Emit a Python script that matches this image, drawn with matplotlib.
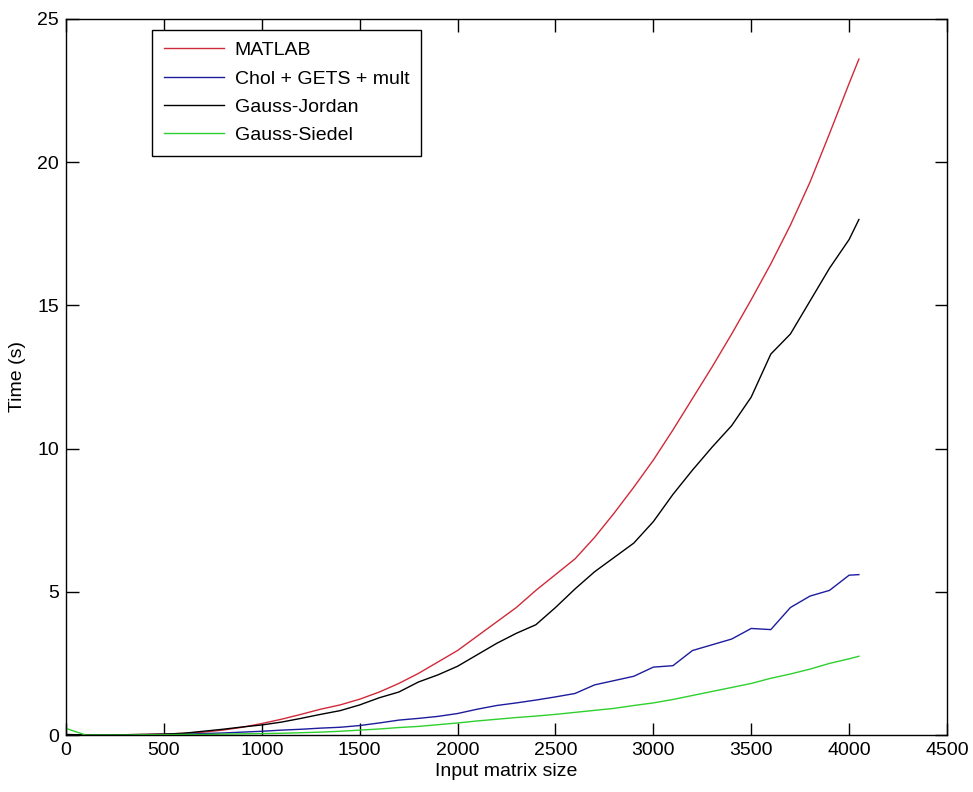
import matplotlib
matplotlib.use("Agg")
import matplotlib.pyplot as plt

plt.rcParams['font.family'] = ['Liberation Sans', 'DejaVu Sans']

sizes = [0, 100, 200, 300, 400, 500, 600, 700, 800, 900,
         1000, 1100, 1200, 1300, 1400, 1500, 1600, 1700, 1800, 1900,
         2000, 2100, 2200, 2300, 2400, 2500, 2600, 2700, 2800, 2900,
         3000, 3100, 3200, 3300, 3400, 3500, 3600, 3700, 3800, 3900,
         4000, 4050]

matlab = [0.0, 0.0, 0.0, 0.01, 0.02, 0.03, 0.06, 0.1, 0.17, 0.27,
          0.4, 0.55, 0.72, 0.9, 1.05, 1.25, 1.5, 1.8, 2.15, 2.55,
          2.95, 3.45, 3.95, 4.45, 5.05, 5.6, 6.15, 6.9, 7.75, 8.65,
          9.6, 10.65, 11.75, 12.85, 14.0, 15.2, 16.45, 17.8, 19.3, 21.0,
          22.75, 23.6]

chol = [0.0, 0.0, 0.0, 0.0, 0.01, 0.02, 0.03, 0.05, 0.07, 0.1,
        0.13, 0.17, 0.2, 0.24, 0.27, 0.33, 0.42, 0.52, 0.58, 0.65,
        0.75, 0.9, 1.03, 1.12, 1.22, 1.33, 1.45, 1.75, 1.9, 2.05,
        2.37, 2.42, 2.95, 3.15, 3.35, 3.72, 3.68, 4.45, 4.85, 5.05,
        5.58, 5.6]

gauss_jordan = [0.02, 0.0, 0.0, 0.01, 0.02, 0.03, 0.06, 0.13, 0.2, 0.28,
                0.35, 0.45, 0.58, 0.72, 0.85, 1.05, 1.3, 1.5, 1.85, 2.1,
                2.4, 2.8, 3.2, 3.55, 3.85, 4.45, 5.1, 5.7, 6.2, 6.7,
                7.45, 8.4, 9.25, 10.05, 10.8, 11.8, 13.3, 14.0, 15.15, 16.3,
                17.3, 18.0]

gauss_siedel = [0.23, 0.0, 0.0, 0.0, 0.01, 0.01, 0.02, 0.02, 0.03, 0.04,
                0.05, 0.06, 0.08, 0.1, 0.13, 0.17, 0.21, 0.26, 0.3, 0.36,
                0.42, 0.49, 0.55, 0.61, 0.66, 0.72, 0.79, 0.86, 0.93, 1.03,
                1.12, 1.24, 1.38, 1.52, 1.66, 1.8, 1.98, 2.13, 2.3, 2.5,
                2.66, 2.75]

labels = ["MATLAB", "Chol + GETS + mult", "Gauss-Jordan", "Gauss-Siedel"]
xticks = [0, 500, 1000, 1500, 2000, 2500, 3000, 3500, 4000, 4500]
yticks = [0, 5, 10, 15, 20, 25]

fig = plt.figure(figsize=(9.73, 7.92), dpi=100)
ax = fig.add_axes([66/973, 1 - 735/792, 881/973, 716/792])

ax.plot(sizes, matlab, color='#d02a3a', lw=1.0, label=labels[0])
ax.plot(sizes, chol, color='#1c1c9c', lw=1.0, label=labels[1])
ax.plot(sizes, gauss_jordan, color='black', lw=1.0, label=labels[2])
ax.plot(sizes, gauss_siedel, color='#2ed02e', lw=1.0, label=labels[3])

ax.set_xlim(0, 4500)
ax.set_ylim(0, 25)
ax.set_xticks(xticks)
ax.set_yticks(yticks)
ax.tick_params(direction='in', length=9, width=1.0, top=True, right=True,
               labelsize=14, pad=5)
for s in ax.spines.values():
    s.set_linewidth(1.0)

ax.set_xlabel("Input matrix size", fontsize=14, labelpad=3)
ax.set_ylabel("Time (s)", fontsize=14, labelpad=8)

leg = ax.legend(loc='upper left', bbox_to_anchor=((152 - 66) / 881, (735 - 30) / 716),
                fontsize=14, frameon=True, fancybox=False, framealpha=1,
                edgecolor='black', handlelength=3.1, handletextpad=0.55,
                labelspacing=0.55, borderpad=0.6, borderaxespad=0)
leg.get_frame().set_linewidth(1.0)

fig.savefig("out.png", dpi=100)
